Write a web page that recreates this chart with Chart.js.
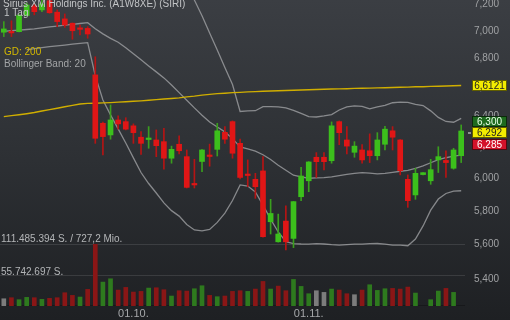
<!DOCTYPE html>
<html><head><meta charset="utf-8">
<script src="https://cdn.jsdelivr.net/npm/chart.js@4.4.1/dist/chart.umd.min.js"></script>
<style>
html,body{margin:0;padding:0;width:510px;height:320px;overflow:hidden;background:linear-gradient(to bottom,#3b3e43 0%,#2d3034 50%,#1e2023 100%);}
canvas{display:block}
</style></head>
<body>
<canvas id="c" width="510" height="320"></canvas>
<script>
const dates = ['06.09.','09.09.','10.09.','11.09.','12.09.','13.09.','16.09.','17.09.','18.09.','19.09.','20.09.','23.09.','24.09.','25.09.','26.09.','27.09.','30.09.',
'01.10.','02.10.','03.10.','04.10.','07.10.','08.10.','09.10.','10.10.','11.10.','14.10.','15.10.','16.10.','17.10.','18.10.','21.10.','22.10.','23.10.','24.10.','25.10.','28.10.','29.10.','30.10.','31.10.',
'01.11.','04.11.','05.11.','06.11.','07.11.','08.11.','11.11.','12.11.','13.11.','14.11.','15.11.','18.11.','19.11.','20.11.','21.11.','22.11.','25.11.','26.11.','27.11.','28.11.','29.11.'];
const tickLabels = ['01.10.','01.11.'];

const open  = [6.991,6.996,6.995,7.114,7.186,7.156,7.225,7.139,7.089,7.057,7.019,7.019,6.686,6.356,6.279,6.378,6.367,6.339,6.264,6.249,6.246,6.235,6.128,6.218,6.138,5.968,6.107,6.146,6.185,6.296,6.367,6.224,6.025,5.994,6.047,5.734,5.615,5.738,5.635,5.886,5.985,6.134,6.134,6.112,6.367,6.246,6.166,6.181,6.176,6.144,6.218,6.306,6.246,5.994,5.897,6.024,5.985,6.117,6.114,6.064,6.144];
const high  = [7.069,7.075,7.125,7.208,7.206,7.230,7.245,7.156,7.126,7.059,7.044,7.032,6.814,6.364,6.479,6.405,6.393,6.352,6.301,6.334,6.312,6.323,6.206,6.273,6.181,6.121,6.184,6.219,6.356,6.334,6.372,6.251,6.117,6.032,6.138,5.870,5.780,5.831,5.857,6.070,6.106,6.164,6.164,6.365,6.372,6.334,6.235,6.216,6.286,6.294,6.336,6.334,6.249,6.022,6.064,6.037,6.121,6.202,6.176,6.192,6.345];
const low   = [6.959,6.959,6.993,7.112,7.119,7.143,7.130,7.032,7.027,6.940,6.971,6.947,6.224,6.149,6.251,6.317,6.312,6.224,6.153,6.192,6.138,6.058,6.096,6.155,5.940,5.940,6.042,6.077,6.142,6.224,6.128,5.996,5.948,5.876,5.643,5.661,5.613,5.567,5.581,5.862,5.917,6.006,6.053,6.096,6.215,6.155,6.134,6.096,6.100,6.117,6.181,6.181,6.022,5.821,5.870,6.022,5.963,6.037,6.006,6.058,6.100];
const close = [7.015,6.986,7.115,7.193,7.143,7.201,7.135,7.069,7.044,7.002,7.012,6.978,6.257,6.268,6.378,6.352,6.317,6.294,6.224,6.252,6.209,6.128,6.185,6.176,5.944,5.959,6.181,6.139,6.306,6.251,6.160,6.006,6.018,5.948,5.645,5.784,5.661,5.615,5.856,6.015,6.104,6.106,6.106,6.339,6.294,6.206,6.206,6.117,6.144,6.246,6.317,6.264,6.049,5.862,6.032,6.036,6.055,6.138,6.100,6.181,6.305];

// volume in millions of shares
const volume = [13.1,15.0,11.4,15.6,15.0,12.0,13.8,15.0,24.0,19.2,16.2,30.0,111.485394,43.2,49.2,28.8,33.6,25.2,26.4,32.4,33.0,29.4,18.0,27.6,27.0,31.2,36.6,19.2,16.8,18.0,26.4,27.6,26.4,30.6,44.4,30.6,36.0,27.6,48.0,35.4,22.2,27.6,24.6,30.6,28.8,22.2,20.4,28.8,38.4,28.2,31.2,31.8,30.6,34.2,23.4,null,11.4,27.0,31.8,24.6,null];
const volDir = ['n','d','u','u','d','u','d','d','d','d','u','d','d','u','u','d','d','d','d','u','d','d','u','d','d','u','u','d','u','d','d','d','u','d','d','u','d','d','u','u','u','n','n','u','d','d','n','d','u','u','u','d','d','d','u','n','u','u','d','u','u'];

const gd200 = [6.400,6.407,6.413,6.420,6.428,6.438,6.447,6.457,6.467,6.476,6.485,6.490,6.491,6.493,6.495,6.498,6.501,6.504,6.507,6.511,6.515,6.519,6.523,6.527,6.534,6.539,6.546,6.551,6.556,6.559,6.563,6.565,6.568,6.570,6.572,6.574,6.576,6.578,6.579,6.581,6.583,6.585,6.586,6.588,6.589,6.590,6.592,6.593,6.594,6.596,6.597,6.598,6.600,6.601,6.603,6.604,6.606,6.607,6.609,6.610,6.6121];
const bbUpper = [7.27,7.27,7.26,7.26,7.26,7.27,7.27,7.27,7.28,7.28,7.28,7.29,7.36,7.45,7.50,7.52,7.54,7.55,7.56,7.56,7.55,7.54,7.50,7.44,7.35,7.23,7.113,6.986,6.863,6.738,6.619,6.435,6.439,6.440,6.468,6.468,6.466,6.459,6.442,6.422,6.401,6.398,6.405,6.414,6.445,6.466,6.473,6.469,6.452,6.466,6.476,6.494,6.498,6.496,6.483,6.475,6.439,6.395,6.368,6.363,6.389];
const bbMiddle = [6.997,7.002,7.007,7.011,7.016,7.023,7.030,7.036,7.043,7.049,7.055,7.061,7.017,6.979,6.946,6.918,6.878,6.835,6.792,6.749,6.707,6.665,6.616,6.563,6.511,6.459,6.410,6.365,6.331,6.299,6.255,6.201,6.188,6.174,6.150,6.120,6.083,6.051,6.020,6.010,6.001,6.003,6.005,6.010,6.017,6.025,6.032,6.036,6.033,6.028,6.031,6.038,6.045,6.051,6.063,6.079,6.099,6.119,6.131,6.141,6.148];
const bbLower = [null,null,null,6.863,6.872,6.879,6.887,6.892,6.898,6.904,6.910,6.915,6.680,6.513,6.412,6.319,6.226,6.130,6.037,5.968,5.909,5.848,5.801,5.768,5.718,5.685,5.680,5.688,5.730,5.786,5.863,5.959,5.952,5.915,5.835,5.750,5.673,5.616,5.604,5.602,5.601,5.604,5.602,5.598,5.595,5.598,5.601,5.601,5.604,5.605,5.601,5.596,5.595,5.592,5.631,5.709,5.804,5.872,5.906,5.920,5.923];

const yTicks = [5.4,5.6,5.8,6.0,6.2,6.4,6.6,6.8,7.0,7.2];
const quoteBid = 6.300, quoteLast = 6.292, quoteAsk = 6.285;

const FONT = "'Liberation Sans', Arial, sans-serif";
const upBody = '#3cc01c', downBody = '#e01616';
const upWick = '#3a9e1e', downWick = '#b51414';
const volColors = {u:'#2e7a1e', d:'#8a1616', n:'#7c7c7c'};
const fmtDE = (v,d) => v.toFixed(d).replace('.',',');
const fmtInt = n => String(n).replace(/\B(?=(\d{3})+(?!\d))/g,'.');

const extras = {
  id:'extras',
  beforeDatasetsDraw(chart){
    const {ctx, chartArea:a, scales} = chart;
    const yv = scales.yv;
    const maxV = Math.max(...volume.filter(v=>v!=null));
    ctx.save();
    ctx.strokeStyle = 'rgba(255,255,255,0.11)';
    ctx.lineWidth = 1;
    [maxV, maxV/2].forEach(v=>{
      const y = Math.round(yv.getPixelForValue(v)) + 0.5;
      ctx.beginPath(); ctx.moveTo(a.left, y); ctx.lineTo(a.right, y); ctx.stroke();
    });
    ctx.strokeStyle = 'rgba(0,0,0,0.25)';
    const y0 = Math.round(yv.getPixelForValue(0)) - 0.5;
    ctx.beginPath(); ctx.moveTo(a.left, y0); ctx.lineTo(a.right, y0); ctx.stroke();
    ctx.restore();
  },
  afterDraw(chart){
    const {ctx, scales} = chart;
    const y = scales.y, yv = scales.yv;
    const maxV = Math.max(...volume.filter(v=>v!=null));
    ctx.save();
    ctx.textBaseline = 'alphabetic';
    ctx.textAlign = 'left';
    ctx.font = '10px ' + FONT;
    ctx.fillStyle = '#c2c4c6';
    ctx.fillText('Sirius XM Holdings Inc. (A1W8XE) (SIRI)', 3, 7);
    ctx.fillText('1 Tag', 4, 16);
    ctx.fillStyle = '#d4b800';
    ctx.fillText('GD: 200', 4, 54.5);
    ctx.fillStyle = '#a2a4a6';
    ctx.fillText('Bollinger Band: 20', 4, 66.5);
    ctx.fillStyle = '#b4b6b8';
    const vm = Math.round(maxV*1e6);
    ctx.fillText(fmtInt(vm) + ' S. / 727,2 Mio.', 1, yv.getPixelForValue(maxV) - 2);
    ctx.fillText(fmtInt(Math.round(vm/2)) + ' S.', 1, yv.getPixelForValue(maxV/2) - 0.5);

    // price tags
    const bx = 472, bw = 35, bh = 11;
    function tag(cy, fill, txtColor, text){
      ctx.fillStyle = fill;
      ctx.fillRect(bx, Math.round(cy - bh/2), bw, bh);
      ctx.strokeStyle = 'rgba(0,0,0,0.6)';
      ctx.lineWidth = 1;
      ctx.strokeRect(bx+0.5, Math.round(cy - bh/2)+0.5, bw-1, bh-1);
      ctx.fillStyle = txtColor;
      ctx.textAlign = 'center';
      ctx.textBaseline = 'middle';
      ctx.font = '10px ' + FONT;
      ctx.fillText(text, bx + bw/2, Math.round(cy - bh/2) + bh/2 + 0.5);
    }
    const gdLast = gd200[gd200.length-1];
    tag(y.getPixelForValue(gdLast), '#f2ec00', '#222', fmtDE(gdLast,4));
    const ly = y.getPixelForValue(quoteLast);
    tag(ly - 11.5, '#1e6a1e', '#e8ffe8', fmtDE(quoteBid,3));
    tag(ly, '#f2ec00', '#222', fmtDE(quoteLast,3));
    tag(ly + 11.5, '#d3122a', '#fff', fmtDE(quoteAsk,3));
    ctx.fillStyle = '#8e9092';
    ctx.fillRect(468, Math.round(ly) - 1, 3, 2);
    ctx.restore();
  }
};

const bandStyle = {type:'line', borderColor:'rgba(165,167,170,0.75)', borderWidth:1.3, pointRadius:0, tension:0, fill:false, order:8, yAxisID:'y'};

new Chart(document.getElementById('c'), {
  type:'bar',
  data:{
    labels: dates,
    datasets:[
      {type:'bar', data: volume, yAxisID:'yv', backgroundColor: volDir.map(d=>volColors[d]), barThickness:4, grouped:false, order:10, borderWidth:0},
      Object.assign({data: bbUpper}, bandStyle),
      Object.assign({data: bbMiddle}, bandStyle),
      Object.assign({data: bbLower}, bandStyle),
      {type:'line', data: gd200, borderColor:'#d0ae00', borderWidth:1.4, pointRadius:0, tension:0, fill:false, order:7, yAxisID:'y'},
      {type:'bar', data: low.map((l,i)=>[l, high[i]]), yAxisID:'y', backgroundColor: close.map((c,i)=> c>=open[i]?upWick:downWick), barThickness:1, grouped:false, order:5, borderWidth:0},
      {type:'bar', data: open.map((o,i)=>[o, close[i]]), yAxisID:'y', backgroundColor: close.map((c,i)=> c>=open[i]?upBody:downBody), barThickness:5, minBarLength:1.5, grouped:false, order:4, borderWidth:0}
    ]
  },
  options:{
    responsive:false, animation:false, devicePixelRatio:1, events:[],
    layout:{padding:0},
    plugins:{legend:{display:false}, tooltip:{enabled:false}, title:{display:false}},
    scales:{
      x:{type:'category', offset:true, grid:{display:false, drawTicks:false}, border:{display:false},
         ticks:{autoSkip:false, maxRotation:0, minRotation:0, padding:1, color:'#a6a8aa', font:{size:11, family:FONT},
                callback:(v,i)=> tickLabels.includes(dates[i]) ? dates[i] : ''},
         afterFit:s=>{s.height=14; s.paddingLeft=0; s.paddingRight=0;}},
      y:{type:'logarithmic', position:'right', min:5.2504, max:7.2306,
         grid:{display:false, drawTicks:false}, border:{display:false},
         afterBuildTicks:s=>{s.ticks = yTicks.map(v=>({value:v}));},
         ticks:{padding:9, color:'#a0a2a4', font:{size:10, family:FONT}, callback:v=>fmtDE(v,3)},
         afterFit:s=>{s.width=45; s.paddingTop=0; s.paddingBottom=0;}},
      yv:{type:'linear', display:false, min:0, max:553}
    }
  },
  plugins:[extras]
});
</script>
</body></html>
